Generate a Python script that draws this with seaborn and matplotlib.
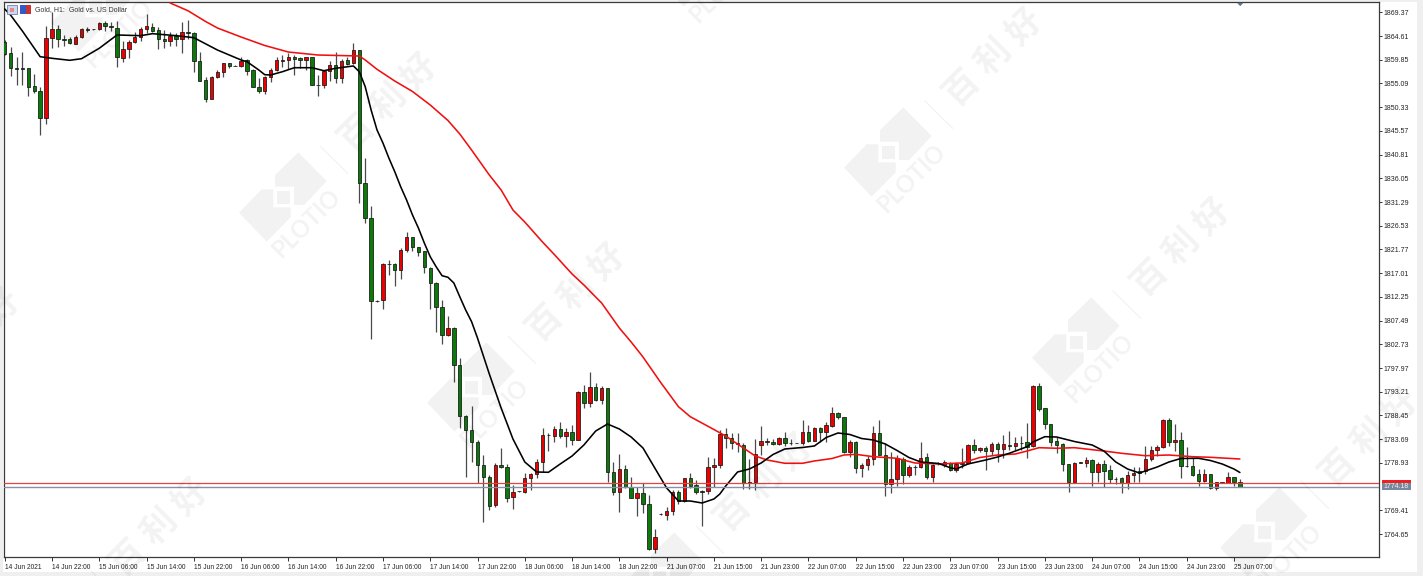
import matplotlib
matplotlib.use("Agg")
import matplotlib.pyplot as plt
from matplotlib.patches import Polygon, Rectangle
import numpy as np
import pandas as pd
import seaborn as sns

open_ = [
 1863.48,1861.14,1858.26,1858.13,1858.13,1854.58,1853.64,1848.09,1864.28,1866.02,
 1863.95,1863.95,1863.08,1864.41,1865.82,1865.95,1865.95,1867.16,1866.69,1866.15,
 1860.27,1862.00,1863.34,1864.35,1865.95,1866.49,1865.75,1863.95,1863.68,1864.60,
 1863.95,1865.48,1865.22,1859.66,1855.78,1852.04,1856.32,1857.32,1859.13,1858.66,
 1858.60,1859.80,1857.79,1854.31,1853.58,1856.32,1857.79,1859.66,1859.80,1860.33,
 1860.20,1859.80,1860.33,1854.85,1854.71,1857.59,1858.80,1856.25,1859.73,1859.13,
 1861.80,1835.05,1828.03,1811.49,1811.63,1818.86,1818.80,1817.65,1821.66,1824.21,
 1822.21,1821.40,1817.99,1815.10,1810.29,1804.61,1806.01,1798.58,1788.35,1785.54,
 1783.13,1778.51,1776.17,1770.49,1778.51,1778.11,1772.15,1773.24,1773.04,1775.85,
 1776.65,1779.12,1784.48,1784.40,1785.80,1784.40,1785.20,1783.53,1793.11,1791.02,
 1794.23,1791.56,1793.97,1777.17,1773.04,1777.77,1774.04,1771.83,1772.84,1770.69,
 1761.72,1768.62,1768.42,1769.34,1773.04,1771.29,1775.85,1774.44,1773.24,1773.24,
 1778.17,1778.57,1784.74,1783.87,1782.67,1782.53,1774.96,1775.04,1782.53,1783.23,
 1783.20,1782.73,1783.87,1783.00,1782.95,1782.87,1785.20,1783.39,1785.88,1785.20,
 1786.40,1788.89,1788.09,1781.06,1783.19,1777.85,1778.51,1779.72,1784.88,1780.52,
 1774.70,1775.70,1779.72,1776.51,1778.05,1778.17,1780.06,1776.17,1778.82,1778.51,
 1778.98,1777.51,1778.86,1778.86,1782.53,1781.46,1781.99,1781.32,1782.67,1781.73,
 1782.60,1782.39,1783.00,1783.07,1782.39,1794.37,1789.89,1786.68,1783.33,1782.67,
 1778.72,1775.04,1779.06,1778.98,1779.58,1777.17,1778.72,1777.51,1775.80,1775.85,
 1774.90,1776.57,1777.31,1777.37,1779.72,1781.47,1782.13,1787.55,1783.19,1783.53,
 1778.38,1778.38,1776.65,1775.36,1776.71,1773.96,1775.04,1774.96,1776.05,1775.16]
high = [
 1863.81,1862.34,1860.47,1861.47,1858.13,1856.99,1854.31,1866.62,1869.50,1866.82,
 1864.82,1864.48,1864.82,1866.15,1866.49,1866.00,1867.49,1867.63,1867.49,1867.69,
 1863.68,1863.81,1865.48,1866.49,1869.03,1867.16,1866.49,1865.82,1865.48,1865.28,
 1867.49,1867.80,1865.35,1861.34,1856.45,1856.59,1857.79,1859.26,1859.13,1858.70,
 1860.47,1859.93,1857.92,1856.12,1856.59,1858.13,1860.47,1860.80,1861.27,1860.80,
 1860.33,1860.47,1860.47,1856.79,1857.66,1859.60,1861.47,1859.93,1860.47,1863.14,
 1861.80,1840.07,1830.50,1811.60,1819.12,1819.66,1819.06,1822.01,1825.22,1824.33,
 1822.33,1821.52,1818.19,1815.18,1811.63,1808.42,1806.27,1800.05,1788.50,1790.42,
 1783.53,1780.52,1776.51,1778.86,1781.87,1778.72,1774.50,1773.30,1776.97,1776.97,
 1779.66,1785.88,1784.88,1786.34,1787.08,1785.88,1786.54,1793.43,1794.57,1797.12,
 1794.91,1794.37,1794.03,1779.18,1780.66,1778.51,1776.17,1774.16,1774.84,1772.49,
 1765.67,1768.80,1770.15,1773.50,1773.50,1775.97,1776.85,1775.50,1773.50,1780.06,
 1779.86,1785.54,1785.88,1784.88,1784.88,1782.87,1779.66,1783.67,1786.40,1783.99,
 1783.67,1784.19,1785.08,1783.67,1783.00,1787.55,1786.54,1786.08,1786.20,1787.21,
 1790.09,1789.21,1788.21,1783.53,1783.33,1778.86,1780.32,1786.34,1787.55,1782.87,
 1781.18,1780.52,1780.06,1778.51,1778.51,1783.07,1780.98,1778.66,1779.20,1779.52,
 1779.18,1779.18,1781.99,1782.67,1783.73,1782.19,1782.33,1783.19,1783.19,1784.54,
 1785.40,1784.19,1784.40,1786.88,1794.57,1794.91,1790.01,1786.74,1784.19,1782.87,
 1778.72,1779.06,1779.10,1780.06,1779.72,1779.06,1779.52,1778.51,1776.17,1776.17,
 1777.37,1778.17,1778.17,1782.33,1782.33,1782.53,1787.69,1787.89,1786.68,1785.20,
 1782.19,1779.86,1777.65,1777.71,1776.77,1775.16,1775.10,1777.05,1776.10,1775.70]
low = [
 1860.80,1856.59,1854.78,1854.78,1852.64,1853.24,1844.75,1846.89,1862.14,1862.47,
 1862.61,1863.01,1862.94,1864.28,1865.35,1865.90,1865.82,1865.68,1865.62,1858.46,
 1859.46,1860.13,1863.14,1863.68,1865.15,1865.48,1862.00,1862.14,1862.67,1862.67,
 1861.14,1863.95,1857.46,1855.58,1851.43,1851.90,1856.12,1856.45,1858.13,1858.60,
 1858.46,1856.79,1854.31,1853.11,1852.91,1855.45,1857.66,1858.46,1857.92,1856.79,
 1858.13,1857.79,1854.71,1852.64,1854.11,1855.58,1855.11,1855.11,1858.80,1859.00,
 1831.10,1827.14,1803.80,1811.30,1809.76,1816.65,1814.44,1815.85,1821.20,1821.52,
 1820.52,1816.99,1809.76,1805.27,1802.74,1804.40,1795.11,1785.88,1776.05,1779.18,
 1774.84,1767.14,1769.48,1770.15,1777.85,1771.15,1769.62,1773.15,1772.96,1773.50,
 1775.97,1777.05,1781.32,1783.07,1783.87,1782.07,1782.53,1783.50,1790.01,1790.22,
 1791.36,1790.70,1775.16,1772.49,1769.02,1773.96,1771.83,1768.34,1768.82,1761.45,
 1760.79,1768.40,1767.48,1768.48,1770.69,1771.15,1773.96,1772.69,1766.33,1772.69,
 1774.04,1777.85,1781.93,1781.73,1781.18,1773.64,1773.64,1773.50,1780.52,1782.53,
 1782.53,1782.53,1782.33,1782.53,1782.85,1782.53,1783.07,1783.27,1783.19,1783.19,
 1786.20,1787.75,1780.86,1780.18,1776.97,1776.17,1777.51,1778.51,1780.50,1772.29,
 1772.96,1774.30,1774.70,1776.05,1776.51,1777.97,1775.70,1775.04,1778.50,1778.17,
 1777.31,1777.17,1777.85,1778.72,1780.86,1781.18,1777.51,1780.52,1779.12,1779.86,
 1781.52,1781.52,1781.52,1779.86,1782.19,1789.35,1785.68,1782.33,1780.86,1777.31,
 1773.16,1774.84,1778.95,1778.05,1774.30,1775.16,1774.16,1774.84,1774.64,1772.84,
 1773.70,1775.04,1775.04,1776.65,1779.38,1780.32,1782.00,1782.39,1781.32,1775.85,
 1778.17,1776.37,1774.30,1775.16,1773.70,1773.50,1774.95,1774.84,1774.36,1774.16]
close = [
 1860.94,1858.13,1857.92,1857.92,1854.45,1853.58,1848.09,1864.28,1865.95,1863.95,
 1863.81,1863.14,1864.48,1865.95,1865.95,1865.95,1867.16,1866.69,1866.49,1860.33,
 1862.07,1863.41,1864.35,1865.95,1866.69,1865.68,1863.95,1863.68,1864.60,1863.95,
 1865.35,1865.15,1859.66,1855.65,1852.04,1856.45,1857.32,1859.13,1858.66,1858.66,
 1859.60,1857.66,1854.45,1853.58,1856.32,1857.72,1859.80,1859.80,1860.33,1860.07,
 1859.80,1860.33,1854.85,1854.71,1857.59,1858.73,1856.25,1859.66,1859.06,1861.80,
 1835.05,1828.03,1811.49,1811.40,1818.86,1818.80,1817.65,1821.73,1824.21,1822.21,
 1821.26,1818.19,1814.98,1810.29,1804.61,1805.95,1798.58,1788.35,1785.54,1783.07,
 1778.51,1776.17,1770.35,1778.51,1778.06,1771.95,1773.16,1773.20,1775.85,1776.65,
 1779.12,1784.48,1784.55,1785.80,1784.40,1785.20,1783.53,1793.11,1791.02,1794.23,
 1791.56,1793.97,1777.17,1773.04,1777.77,1774.04,1771.95,1772.84,1770.69,1761.60,
 1764.13,1768.60,1769.34,1773.16,1771.29,1775.85,1774.36,1773.04,1773.04,1778.17,
 1778.57,1784.74,1783.87,1782.87,1782.87,1774.84,1775.16,1780.66,1783.27,1783.30,
 1782.67,1783.87,1782.87,1782.95,1782.90,1785.20,1783.39,1785.94,1785.20,1786.48,
 1788.89,1788.09,1781.06,1783.19,1777.85,1778.51,1779.78,1784.88,1780.52,1774.70,
 1775.70,1779.86,1776.51,1778.05,1778.20,1779.98,1776.17,1778.51,1778.90,1779.18,
 1777.51,1778.72,1778.80,1782.53,1781.46,1781.99,1781.32,1782.67,1781.73,1782.67,
 1782.39,1782.87,1782.95,1782.19,1794.37,1789.69,1786.68,1783.19,1782.53,1778.65,
 1775.04,1778.98,1779.00,1779.52,1777.17,1778.66,1777.37,1775.76,1775.70,1774.90,
 1776.51,1776.91,1776.97,1779.72,1781.47,1782.13,1787.55,1783.19,1783.53,1778.38,
 1778.30,1776.51,1775.36,1776.65,1773.96,1775.04,1775.00,1776.05,1775.04,1774.18]

fast_bars = [0,1,3,6,8,11,13,16,19,23,25,29,32,36,40,41,43,44,45,47,49,52,54,56,59,60,61,62,63,64,
 65,66,67,68,69,70,71,72,73,74,75,76,77,78,79,80,82,84,86,88,90,92,94,96,98,100,102,104,106,108,
 110,112,114,116,118,120,121,122,124,126,128,130,132,135,137,139,141,143,145,147,149,151,153,155,
 158,160,161,163,166,168,170,173,174,176,178,181,184,186,188,190,192,195,197,199,202,204,206,208,209]
fast_ma = [1870.03,1868.80,1865.60,1860.46,1860.14,1859.74,1860.06,1862.15,1864.82,1864.68,1865.08,1864.68,1864.28,
 1861.80,1859.80,1859.46,1857.79,1856.85,1856.79,1857.45,1858.25,1858.25,1857.65,1858.13,1858.60,1857.45,1854.44,
 1849.76,1845.75,1843.14,1840.13,1837.38,1834.37,1831.70,1828.69,1826.08,1823.07,1820.32,1818.31,1816.51,1816.19,
 1815.04,1812.29,1809.62,1807.28,1804.00,1796.78,1789.95,1783.73,1779.12,1777.11,1777.05,1778.72,1780.32,1782.53,
 1785.34,1786.74,1785.74,1784.13,1781.93,1777.91,1773.90,1771.29,1771.29,1770.89,1771.69,1772.69,1774.30,1777.11,
 1777.71,1778.92,1780.62,1781.73,1782.03,1782.33,1784.03,1784.94,1784.64,1783.83,1783.53,1782.73,1781.42,1780.02,
 1779.12,1778.82,1777.97,1777.71,1778.72,1779.52,1780.12,1780.88,1782.19,1783.13,1784.20,1784.13,1783.23,1782.53,
 1781.32,1779.12,1777.71,1776.91,1778.11,1779.12,1779.82,1779.86,1779.42,1778.72,1777.71,1777.01]

slow_bars = [28,31,34,36,40,44,48,53,60,61,63,66,69,72,75,77,79,82,84,86,88,91,93,96,98,101,104,106,108,111,114,116,120,
 122,124,127,129,132,135,137,140,142,144,147,151,154,158,162,165,168,171,173,175,178,181,186,189,193,197,201,204,209]
slow_ma = [1871.24,1869.69,1867.52,1866.22,1864.41,1862.71,1861.40,1860.80,1860.60,1859.80,1857.93,1855.58,1853.48,
 1850.77,1847.66,1844.95,1841.73,1836.72,1833.71,1829.69,1827.28,1823.27,1820.76,1816.85,1814.64,1811.03,1806.01,
 1803.20,1800.19,1795.07,1790.22,1788.21,1785.64,1784.33,1782.73,1780.32,1779.52,1778.86,1778.86,1779.32,1779.82,
 1780.52,1780.66,1780.18,1779.86,1778.92,1778.72,1778.92,1780.02,1780.52,1780.72,1781.32,1781.99,1781.87,1781.99,
 1781.32,1780.86,1780.38,1780.52,1780.18,1780.06,1779.72]

price_ticks = [1869.37,1864.61,1859.85,1855.09,1850.33,1845.57,1840.81,1836.05,1831.29,1826.53,1821.77,1817.01,
 1812.25,1807.49,1802.73,1797.97,1793.21,1788.45,1783.69,1778.93,1769.41,1764.65]
time_labels = ["14 Jun 2021","14 Jun 22:00","15 Jun 06:00","15 Jun 14:00","15 Jun 22:00","16 Jun 06:00","16 Jun 14:00",
 "16 Jun 22:00","17 Jun 06:00","17 Jun 14:00","17 Jun 22:00","18 Jun 06:00","18 Jun 14:00","18 Jun 22:00",
 "21 Jun 07:00","21 Jun 15:00","21 Jun 23:00","22 Jun 07:00","22 Jun 15:00","22 Jun 23:00","23 Jun 07:00",
 "23 Jun 15:00","23 Jun 23:00","24 Jun 07:00","24 Jun 15:00","24 Jun 23:00","25 Jun 07:00"]
bid_price = 1774.18
ask_price = 1774.84

W, H = 1423, 576
sns.set_theme(style="white")
plt.rcParams["font.family"] = ["Liberation Sans", "Noto Sans CJK SC", "DejaVu Sans"]

fig = plt.figure(figsize=(W / 100, H / 100), dpi=100, facecolor="#EFEFEF")
L, R, T, B = 3.6, 1379.4, 2.4, 557.4
ax = fig.add_axes([L / W, 1 - B / H, (R - L) / W, (B - T) / H], facecolor="white", zorder=2)

# white client area round the plot
bg = fig.add_axes([0, 0, 1, 1], zorder=0)
bg.set_xlim(0, W); bg.set_ylim(H, 0); bg.axis("off")
bg.add_patch(Rectangle((3, 2), 1414, 570, fc="white", ec="none"))

bars = np.arange(len(open_))
o, h, l, c = map(np.array, (open_, high, low, close))
up = c >= o
ax.vlines(bars, l, h, color="#4a4a4a", lw=0.9, zorder=2)
ax.bar(bars, np.abs(c - o), bottom=np.minimum(o, c), width=0.58,
       color=np.where(up, "#EE0000", "#0B7A0B"), edgecolor="#151515", linewidth=0.55, zorder=3)

fast = pd.DataFrame({"bar": fast_bars, "price": fast_ma})
slow = pd.DataFrame({"bar": slow_bars, "price": slow_ma})
sns.lineplot(data=slow, x="bar", y="price", color="#F01010", lw=1.15, estimator=None, ax=ax, zorder=4)
sns.lineplot(data=fast, x="bar", y="price", color="#000000", lw=1.15, estimator=None, ax=ax, zorder=5)

ax.axhline(ask_price, color="#E8413F", lw=0.9, zorder=6)
ax.axhline(bid_price, color="#8494A6", lw=1.0, zorder=6)

ax.set_xlim((L - 4.7) / 5.91, (R - 4.7) / 5.91)
ax.set_ylim(1871.84 - 0.2007 * B, 1871.84 - 0.2007 * T)
ax.set_xlabel(""); ax.set_ylabel("")
ax.yaxis.tick_right()
ax.set_yticks(price_ticks)
ax.set_yticklabels([f"{p:.2f}" for p in price_ticks])
ax.set_xticks(np.arange(len(time_labels)) * 8)
ax.set_xticklabels(time_labels, ha="left")
ax.tick_params(axis="y", length=2.4, width=0.7, pad=0.8, labelsize=5.0, color="#333333", labelcolor="#222222", right=True)
ax.tick_params(axis="x", length=3.0, width=0.7, pad=1.8, labelsize=4.8, color="#333333", labelcolor="#222222", bottom=True)
for s in ax.spines.values():
    s.set_color("#3a3a3a"); s.set_linewidth(0.9); s.set_visible(True)

# overlay in figure pixels: header, tags, watermark
ov = fig.add_axes([0, 0, 1, 1], zorder=5, facecolor="none")
ov.set_xlim(0, W); ov.set_ylim(H, 0); ov.axis("off")

ov.text(35, 9.5, "Gold, H1:  Gold vs. US Dollar", fontsize=5.0, color="#333333", va="center", ha="left")
ov.add_patch(Rectangle((7, 5), 10, 9, fc="#CFD8F0", ec="#7080A8", lw=0.6))
ov.add_patch(Rectangle((10, 7.5), 4, 4.5, fc="#E88A8A", ec="none"))
ov.add_patch(Rectangle((20, 5), 5.5, 9, fc="#3458C8", ec="none"))
ov.add_patch(Rectangle((25.5, 5), 5.5, 9, fc="#C83434", ec="none"))
ov.add_patch(Polygon([(1237, 2.8), (1243.5, 2.8), (1240.2, 6.2)], fc="#64748B", ec="none"))

ov.add_patch(Rectangle((1381.5, 479.5), 29, 5, fc="#F02020", ec="none"))
ov.add_patch(Rectangle((1381.5, 482.6), 29, 7.6, fc="#78889C", ec="none"))
ov.text(1395.8, 486.4, f"{bid_price:.2f}", fontsize=5.0, color="#F4F4F4", va="center", ha="center")

WM = "#000000"
WA = 0.05
upper = [(8.3, -52.7), (36.7, -24), (14.3, 0), (4, 0), (4, -18.3), (-15, -18.3), (-15, -30)]
lower = [(-51, 7.7), (-28.3, -15.7), (-16.7, -15.7), (-16.7, 2.3), (0.7, 2.3), (0.7, 12.3), (-23.3, 36.7)]
a1, a2 = np.array([188, 190]), np.array([605, -45])
origin = np.array([290, 205])
anchors = [origin + i * a1 + j * a2 for i in range(-3, 5) for j in range(-2, 4)]


def on_page(x, y, margin=8):
    return -margin < x < W + margin and -margin < y < H + margin


for ax0, ay0 in anchors:
    if not (-250 < ax0 < W + 120 and -120 < ay0 < H + 260):
        continue
    for shape in (upper, lower):
        ov.add_patch(Polygon([(ax0 + dx, ay0 + dy) for dx, dy in shape], fc=WM, ec="none", alpha=WA))
    ov.add_patch(Rectangle((ax0 - 13.3, ay0 - 14.3), 13.3, 13.3, fc=WM, ec="none", alpha=WA))
    ov.plot([ax0 + 30, ax0 + 57.7], [ay0 - 59, ay0 - 31.7], color=WM, alpha=WA, lw=0.9)
    if on_page(ax0 + 16.7, ay0 + 18.3, 20):
        ov.text(ax0 + 16.7, ay0 + 18.3, "PLOTIO", rotation=45, rotation_mode="anchor", fontsize=17, fontweight="bold",
                family=["Lato", "DejaVu Sans"], color=WM, alpha=WA, ha="center", va="center", clip_on=True)
    for k, ch in enumerate("百利好"):
        x, y = ax0 + 67 + 31 * k, ay0 - 73 - 30 * k
        if on_page(x, y):
            ov.text(x, y, ch, rotation=45, rotation_mode="anchor", fontsize=25,
                    family=["Noto Sans CJK SC", "DejaVu Sans"], fontweight="bold", color=WM, alpha=WA,
                    ha="center", va="center", clip_on=True)

fig.savefig("out.png", dpi=100, facecolor=fig.get_facecolor())
